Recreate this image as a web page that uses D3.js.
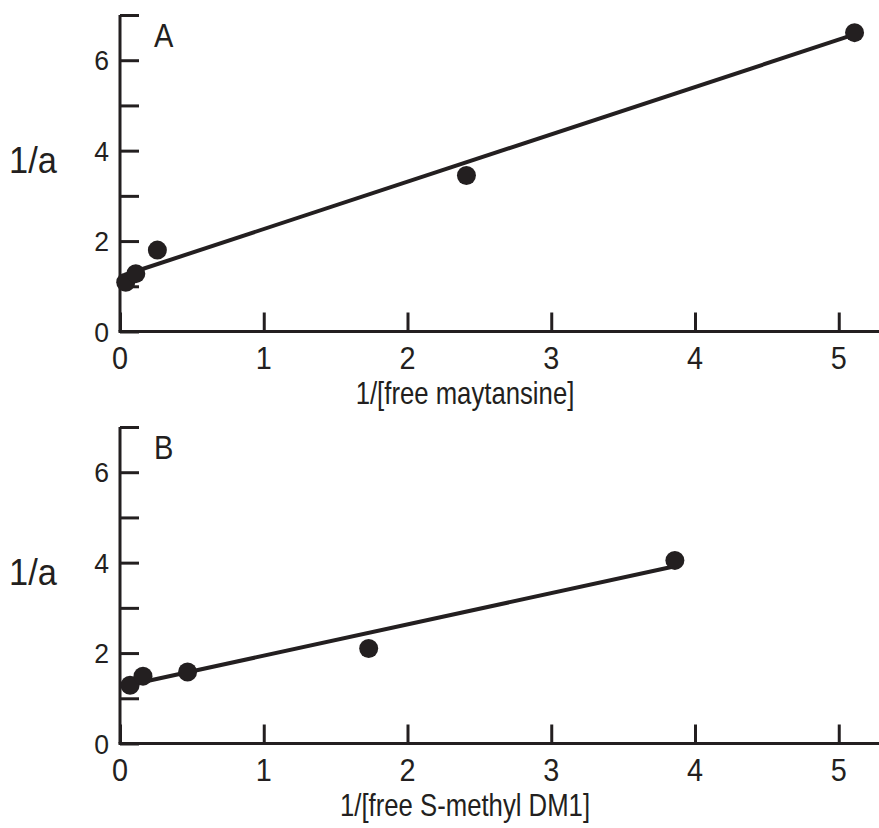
<!DOCTYPE html>
<html>
<head>
<meta charset="utf-8">
<script src="https://cdnjs.cloudflare.com/ajax/libs/d3/7.8.5/d3.min.js"></script>
<style>
  body { margin: 0; background: #fff; }
  text { font-family: "Liberation Sans", Arial, sans-serif; fill: #231f20; }
</style>
</head>
<body>
<div class="chart"></div>
<script>
// Double reciprocal plots, panel A (maytansine) and panel B (S-methyl DM1)

var xTicks = [0, 1, 2, 3, 4, 5];
var yTicks = [0, 1, 2, 3, 4, 5, 6, 7];
var yTickLabels = ['0', '', '2', '', '4', '', '6', ''];

// panel A
var aX = [0.04, 0.11, 0.26, 2.41, 5.11];
var aY = [1.09, 1.28, 1.80, 3.45, 6.61];
var aLineX = [0.03, 5.11];
var aLineY = [1.25, 6.57];

// panel B
var bX = [0.07, 0.16, 0.47, 1.73, 3.86];
var bY = [1.29, 1.49, 1.58, 2.10, 4.05];
var bLineX = [0.07, 3.86];
var bLineY = [1.30, 3.92];

var ink = '#231f20';
var width = 879, height = 828;

var svg = d3.select('.chart').append('svg')
  .attr('width', width)
  .attr('height', height);

var xScale = d3.scaleLinear().domain([0, 5.28]).range([120, 879]);

// the original lettering is a bit narrower than Liberation Sans,
// so squeeze it horizontally around its anchor point
var label = function(g, x, y, size, squeeze, anchor, txt) {
  return g.append('text')
    .attr('transform', 'translate(' + x + ',' + y + ') scale(' + squeeze + ',1)')
    .attr('text-anchor', anchor)
    .attr('font-size', size)
    .text(txt);
};

var drawPanel = function(opts) {
  var yScale = d3.scaleLinear().domain([0, 7]).range([opts.bottom, opts.top]);
  var g = svg.append('g');

  // y axis, ticks point inward (to the right)
  var yAxis = d3.axisRight(yScale)
    .tickValues(yTicks)
    .tickSize(19)
    .tickSizeOuter(0)
    .tickFormat('');
  var ya = g.append('g')
    .attr('transform', 'translate(' + xScale(0) + ',0)')
    .call(yAxis);
  ya.selectAll('path, line').attr('stroke', ink).attr('stroke-width', 3);
  ya.select('.domain').attr('d', 'M0,' + yScale(7) + 'V' + yScale(0));

  // x axis, ticks point up
  var xAxis = d3.axisTop(xScale)
    .tickValues(xTicks)
    .tickSize(19)
    .tickSizeOuter(0)
    .tickFormat('');
  var xa = g.append('g')
    .attr('transform', 'translate(0,' + yScale(0) + ')')
    .call(xAxis);
  xa.selectAll('path, line').attr('stroke', ink).attr('stroke-width', 3);
  xa.select('.domain').attr('d', 'M' + (xScale(0) - 1.5) + ',0H' + width);

  // tick labels
  yTicks.forEach(function(d, i) {
    if (yTickLabels[i]) label(g, xScale(0) - 11, yScale(d) + 10, 28, 0.95, 'end', yTickLabels[i]);
  });
  xTicks.forEach(function(d) {
    label(g, xScale(d), yScale(0) + 37, 31, 0.93, 'middle', d);
  });

  // titles
  label(g, 465, yScale(0) + 72, 31, 0.83, 'middle', opts.xTitle);
  label(g, 9, yScale(4) + 22, 37, 0.93, 'start', '1/a');
  label(g, 154, yScale(7) + 32, 33, 0.88, 'start', opts.letter);

  // fitted line
  var line = d3.line()
    .x(function(d) { return xScale(d[0]); })
    .y(function(d) { return yScale(d[1]); });
  g.append('path')
    .datum(d3.zip(opts.lineX, opts.lineY))
    .attr('d', line)
    .attr('fill', 'none')
    .attr('stroke', ink)
    .attr('stroke-width', 4);

  // data points
  g.selectAll('circle').data(d3.zip(opts.xs, opts.ys)).enter()
    .append('circle')
      .attr('cx', function(d) { return xScale(d[0]); })
      .attr('cy', function(d) { return yScale(d[1]); })
      .attr('r', 9.5)
      .attr('fill', ink);
};

drawPanel({ top: 15, bottom: 331.5, xs: aX, ys: aY, lineX: aLineX, lineY: aLineY,
  xTitle: '1/[free maytansine]', letter: 'A' });
drawPanel({ top: 427, bottom: 743.5, xs: bX, ys: bY, lineX: bLineX, lineY: bLineY,
  xTitle: '1/[free S-methyl DM1]', letter: 'B' });
</script>
</body>
</html>
